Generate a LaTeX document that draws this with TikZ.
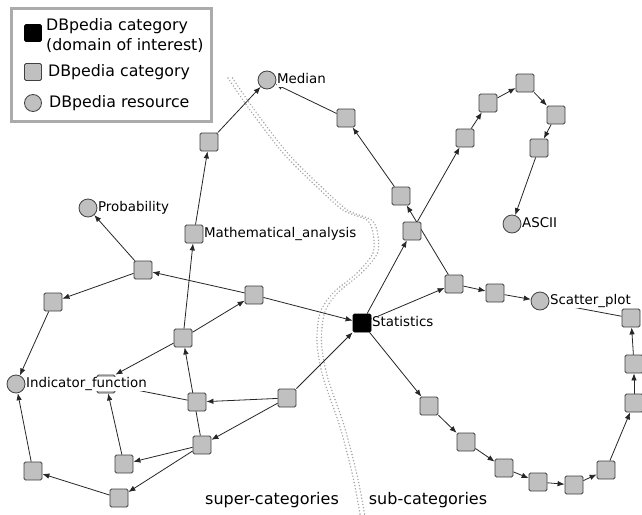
\documentclass[tikz,border=0pt]{standalone}
\usepackage{fontspec}
\setmainfont{DejaVu Sans}
\usetikzlibrary{arrows.meta}
\definecolor{catgray}{HTML}{C0C0C0}
\definecolor{sepgray}{HTML}{A4A4A4}
\definecolor{boxgray}{HTML}{ABABAB}
\newcommand\nodefnt{\fontsize{13.4}{16}\selectfont}
\newcommand\legfnt{\fontsize{15.8}{20}\selectfont}
\newcommand\regfnt{\fontsize{16}{19}\selectfont}
\pgfdeclarelayer{bglayer}
\pgfdeclarelayer{edgelayer}
\pgfsetlayers{bglayer,edgelayer,main}
\begin{document}
\begin{tikzpicture}[x=1pt,y=-1pt,
  cat/.style={draw=black!75, fill=catgray, rounded corners=1.5pt, minimum size=18pt, inner sep=0pt, line width=0.8pt},
  domcat/.style={cat, fill=black, draw=black},
  res/.style={circle, draw=black!75, fill=catgray, minimum size=18pt, inner sep=0pt, line width=0.8pt},
  lbl/.style={fill=white, inner sep=0.5pt, font=\nodefnt, text height=10pt, text depth=3.5pt, anchor=west},
  edge/.style={draw=black!85, line width=0.8pt, -{Latex[length=7pt,width=5.5pt]}},
  sep/.style={draw=sepgray, line width=1.6pt, line cap=round, dash pattern=on 0pt off 3.2pt},
  legtext/.style={font=\legfnt, anchor=west, inner sep=0pt, align=left},
  regtext/.style={font=\regfnt, inner sep=0pt},
  label distance=0pt]
\useasboundingbox (0,0) rectangle (642,514);
\begin{pgfonlayer}{bglayer}
\fill[white] (0,0) rectangle (642,514);
\end{pgfonlayer}

% legend
\node[draw=boxgray, line width=3pt, minimum width=200pt, minimum height=113pt, inner sep=0pt] (legend) at (111.5,65) {};
\node[domcat, minimum size=17pt] (lg1) at (33,33) {};
\node[legtext] (lg1t) at (46,36) {DBpedia category\\(domain of interest)};
\node[cat, minimum size=17pt] (lg2) at (33,72) {};
\node[legtext] (lg2t) at (48,72) {DBpedia category};
\node[res, minimum size=17pt] (lg3) at (33,103) {};
\node[legtext] (lg3t) at (49,103) {DBpedia resource};

% nodes
\node[res, label={[lbl]east:Median}] (med) at (267,80) {};
\node[cat] (a1) at (209,142) {};
\node[cat] (a2) at (346,118) {};
\node[cat] (a3) at (401,196) {};
\node[cat] (a4) at (412,231) {};
\node[cat, label={[lbl]east:Mathematical\_analysis}] (math) at (194,234) {};
\node[cat] (b1) at (465,138) {};
\node[cat] (b2) at (488,103) {};
\node[cat] (b3) at (525,83) {};
\node[cat] (b4) at (556,115) {};
\node[cat] (b5) at (539,148) {};
\node[res, label={[lbl]east:ASCII}] (ascii) at (512,224) {};
\node[res, label={[lbl]east:Probability}] (prob) at (88,208) {};
\node[cat] (c1) at (143,270) {};
\node[cat] (c2) at (53,302) {};
\node[cat] (c3) at (254,295) {};
\node[cat] (c4) at (183,338) {};
\node[domcat, label={[lbl]east:Statistics}] (stat) at (362,323) {};
\node[cat] (hid) at (106,384) {};
\node[res, label={[lbl]east:Indicator\_function}] (ind) at (16,384) {};
\node[cat] (d1) at (197,402) {};
\node[cat] (d2) at (287,398) {};
\node[cat] (d3) at (202,445) {};
\node[cat] (d4) at (124,464) {};
\node[cat] (d5) at (33,471) {};
\node[cat] (d6) at (119,498) {};
\node[cat] (e1) at (454,284) {};
\node[cat] (e2) at (495,293) {};
\node[res, label={[lbl]east:Scatter\_plot}] (scat) at (540,301) {};
\node[cat] (f1) at (631,318) {};
\node[cat] (f2) at (634,364) {};
\node[cat] (f3) at (634,403) {};
\node[cat] (g1) at (429,406) {};
\node[cat] (g2) at (466,442) {};
\node[cat] (g3) at (504,468) {};
\node[cat] (g4) at (538,482) {};
\node[cat] (g5) at (574,485) {};
\node[cat] (g6) at (606,470) {};

\node[regtext] (super) at (272,500) {super-categories};
\node[regtext] (sub) at (428,500) {sub-categories};

\begin{pgfonlayer}{edgelayer}
% separator
\draw[sep] plot[smooth] coordinates {(228,78) (250,110) (283,153) (317,187) (343,210) (367,220) (373,233) (373,253) (357,273) (333,293) (320,313) (317,343) (323,377) (340,427) (353,477) (360,514)};
\draw[sep, xshift=4.5pt] plot[smooth] coordinates {(228,78) (250,110) (283,153) (317,187) (343,210) (367,220) (373,233) (373,253) (357,273) (333,293) (320,313) (317,343) (323,377) (340,427) (353,477) (360,514)};
% edges
\draw[edge] (a1) -- (med);
\draw[edge] (a2) -- (med);
\draw[edge] (a3) -- (a2);
\draw[edge] (e1) -- (a3);
\draw[edge] (stat) -- (a4);
\draw[edge] (a4) -- (b1);
\draw[edge] (b1) -- (b2);
\draw[edge] (b2) -- (b3);
\draw[edge] (b3) -- (b4);
\draw[edge] (b4) -- (b5);
\draw[edge] (b5) -- (ascii);
\draw[edge] (math) -- (a1);
\draw[edge] (c4) -- (math);
\draw[edge] (c4) -- (c3);
\draw[edge] (c3) -- (c1);
\draw[edge] (c1) -- (prob);
\draw[edge] (c1) -- (c2);
\draw[edge] (c2) -- (ind);
\draw[edge] (c3) -- (stat);
\draw[edge] (c4) -- (hid.north east);
\draw[edge] (d1) -- (hid);
\draw[edge] (d2) -- (stat);
\draw[edge] (d2) -- (d1);
\draw[edge] (d2) -- (d3);
\draw[edge] (d3) -- (c4);
\draw[edge] (d3) -- (d4);
\draw[edge] (d3) -- (d6);
\draw[edge] (d4) -- (hid);
\draw[edge] (d6) -- (d5);
\draw[edge] (d5) -- (ind);
\draw[edge] (stat) -- (e1);
\draw[edge] (e1) -- (e2);
\draw[edge] (e2) -- (scat);
\draw[edge] (f1) -- (scat);
\draw[edge] (f2) -- (f1);
\draw[edge] (f3) -- (f2);
\draw[edge] (stat) -- (g1);
\draw[edge] (g1) -- (g2);
\draw[edge] (g2) -- (g3);
\draw[edge] (g3) -- (g4);
\draw[edge] (g4) -- (g5);
\draw[edge] (g5) -- (g6);
\draw[edge] (g6) -- (f3);
\end{pgfonlayer}
\end{tikzpicture}
\end{document}
